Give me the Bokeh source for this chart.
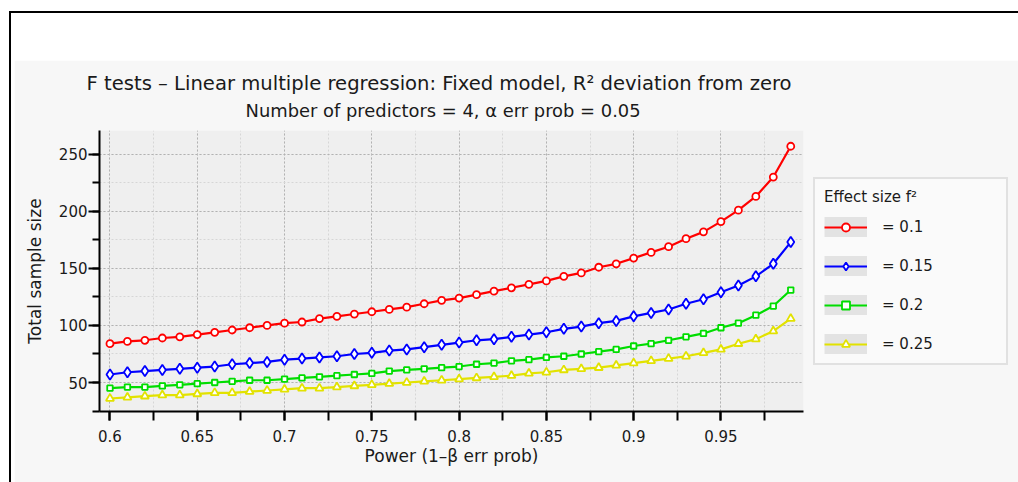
from bokeh.plotting import figure
from bokeh.models import (FixedTicker, Legend, LegendItem, Range1d, Title, Div, ColumnDataSource)
from bokeh.layouts import column, row
from bokeh.embed import file_html
from bokeh.resources import INLINE

# ---------------- data ----------------
power = [0.60, 0.61, 0.62, 0.63, 0.64, 0.65, 0.66, 0.67, 0.68, 0.69,
         0.70, 0.71, 0.72, 0.73, 0.74, 0.75, 0.76, 0.77, 0.78, 0.79,
         0.80, 0.81, 0.82, 0.83, 0.84, 0.85, 0.86, 0.87, 0.88, 0.89,
         0.90, 0.91, 0.92, 0.93, 0.94, 0.95, 0.96, 0.97, 0.98, 0.99]

n_f2_010 = [84, 86, 87, 89, 90, 92, 94, 96, 98, 100,
            102, 103, 106, 108, 110, 112, 114, 116, 119, 122,
            124, 127, 130, 133, 136, 139, 143, 146, 151, 154,
            159, 164, 169, 176, 182, 191, 201, 213, 230, 257]
n_f2_015 = [57, 59, 60, 61, 62, 63, 64, 66, 67, 68,
            70, 71, 72, 73, 75, 76, 78, 79, 81, 83,
            85, 87, 88, 90, 92, 94, 97, 99, 102, 104,
            108, 111, 114, 119, 123, 129, 135, 143, 154, 173]
n_f2_020 = [45, 46, 46, 47, 48, 49, 50, 51, 52, 52,
            53, 54, 55, 56, 57, 58, 60, 61, 62, 63,
            64, 66, 67, 69, 70, 72, 73, 75, 77, 79,
            82, 84, 87, 90, 93, 98, 102, 109, 117, 131]
n_f2_025 = [36, 37, 38, 39, 39, 40, 41, 41, 42, 43,
            44, 45, 45, 46, 47, 48, 49, 50, 51, 52,
            53, 54, 55, 56, 58, 59, 61, 62, 63, 65,
            67, 69, 71, 73, 76, 79, 84, 88, 95, 106]

series_labels = ["= 0.1", "= 0.15", "= 0.2", "= 0.25"]

x_ticks = [0.6, 0.65, 0.7, 0.75, 0.8, 0.85, 0.9, 0.95]
x_tick_labels = ["0.6", "0.65", "0.7", "0.75", "0.8", "0.85", "0.9", "0.95"]
x_minor_ticks = [0.6, 0.625, 0.65, 0.675, 0.7, 0.725, 0.75, 0.775, 0.8,
                 0.825, 0.85, 0.875, 0.9, 0.925, 0.95, 0.975]
y_ticks = [50, 100, 150, 200, 250]
y_minor_ticks = [25, 50, 75, 100, 125, 150, 175, 200, 225, 250]

title_text = "F tests \u2013 Linear multiple regression: Fixed model, R\u00b2 deviation from zero"
subtitle_text = "Number of predictors = 4, \u03b1 err prob = 0.05"
x_label = "Power (1\u2013\u03b2 err prob)"
y_label = "Total sample size"
legend_title = "Effect size f\u00b2"

FONT = "DejaVu Sans"
TXT = "#1a1a1a"

# ---------------- figure ----------------
p = figure(title=None, frame_width=704, frame_height=281,
           min_border_left=85, min_border_right=215,
           min_border_top=70, min_border_bottom=71,
           x_range=Range1d(0.594, 0.9973), y_range=Range1d(24.6, 270.8),
           output_backend="svg", toolbar_location=None, tools="")
p.background_fill_color = "#efefef"
p.border_fill_color = "#f7f7f7"
p.outline_line_color = None

# axes
for ax in (p.xaxis[0], p.yaxis[0]):
    ax.axis_line_color = "black"
    ax.axis_line_width = 2
    ax.major_tick_line_color = "black"
    ax.minor_tick_line_color = "black"
    ax.major_tick_line_width = 2
    ax.minor_tick_line_width = 2
    ax.major_tick_in = 0
    ax.minor_tick_in = 0
    ax.major_label_text_font = FONT
    ax.major_label_text_font_size = "15px"
    ax.major_label_text_color = TXT
    ax.axis_label_text_font = FONT
    ax.axis_label_text_font_size = "17px"
    ax.axis_label_text_font_style = "normal"
    ax.axis_label_text_color = TXT

p.xaxis.ticker = FixedTicker(ticks=x_ticks, minor_ticks=x_minor_ticks)
p.xaxis.major_label_overrides = {t: s for t, s in zip(x_ticks, x_tick_labels)}
p.xaxis.major_tick_out = 9
p.xaxis.minor_tick_out = 9
p.xaxis.major_label_standoff = 9
p.xaxis.axis_label = x_label
p.xaxis.axis_label_standoff = 1

p.yaxis.ticker = FixedTicker(ticks=y_ticks, minor_ticks=y_minor_ticks)
p.yaxis.major_tick_out = 11
p.yaxis.minor_tick_out = 7
p.yaxis.major_label_standoff = 1
p.yaxis.axis_label = y_label
p.yaxis.axis_label_standoff = 11

# grids
for g in (p.xgrid[0], p.ygrid[0]):
    g.grid_line_color = "#b2b2b2"
    g.grid_line_dash = "2 2"
    g.grid_line_width = 1
    g.minor_grid_line_color = "#d6d6d6"
    g.minor_grid_line_dash = "2 2"
    g.minor_grid_line_width = 1

# titles (subtitle added first -> nearest to the plot)
p.add_layout(Title(text=subtitle_text, align="left", offset=146, standoff=20,
                   text_font=FONT, text_font_size="17.9px", text_font_style="normal",
                   text_color=TXT), "above")
p.add_layout(Title(text=title_text, align="left", offset=-13, standoff=-14,
                   text_font=FONT, text_font_size="19.6px", text_font_style="normal",
                   text_color=TXT), "above")

# series
styles = [
    (n_f2_010, "#ff0000", "circle", 7),
    (n_f2_015, "#0000ff", "diamond", 10.5),
    (n_f2_020, "#00dd00", "square", 5.5),
    (n_f2_025, "#e2e200", "triangle", 8),
]
items = []
for (vals, col, mk, sz), lab in zip(styles, series_labels):
    src = ColumnDataSource(data=dict(x=power, y=vals))
    # grey legend swatch: zero-length butt-capped segments draw nothing in the plot,
    # but the legend renders them as a wide grey band behind the line sample
    sw = p.segment(x0="x", y0="y", x1="x", y1="y", source=src,
                   line_color="#e3e3e3", line_width=26, line_cap="butt")
    ln = p.line(x="x", y="y", source=src, line_color=col, line_width=2.2)
    sc = p.scatter(x="x", y="y", source=src, marker=mk, size=sz,
                   line_color=col, line_width=1.8, fill_color="white")
    items.append(LegendItem(label=lab, renderers=[sw, ln, sc]))

legend = Legend(items=items, title=legend_title, location=(10, 46), margin=0,
                orientation="vertical", glyph_width=43, glyph_height=20,
                spacing=19, padding=9, label_standoff=15, label_width=115,
                border_line_color="#c8c8c8", border_line_width=2,
                background_fill_color="#fafafa", background_fill_alpha=1.0,
                title_text_font=FONT, title_text_font_size="15px",
                title_text_font_style="normal", title_text_color=TXT,
                title_standoff=11,
                label_text_font=FONT, label_text_font_size="15px",
                label_text_color=TXT)
p.add_layout(legend, "right")

# window chrome: white band with black frame lines (top and left)
top_band = Div(text="", width=1009, height=49, margin=(11, 0, 0, 9),
               styles={"background-color": "white", "border-top": "2px solid black",
                       "border-left": "2px solid black", "box-sizing": "border-box"})
left_band = Div(text="", width=5, height=422, margin=(0, 0, 0, 9),
                styles={"background-color": "white", "border-left": "2px solid black",
                        "box-sizing": "border-box"})
page = column(top_band, row(left_band, p, spacing=0), spacing=0)

open("out.html", "w").write(file_html(page, INLINE))
